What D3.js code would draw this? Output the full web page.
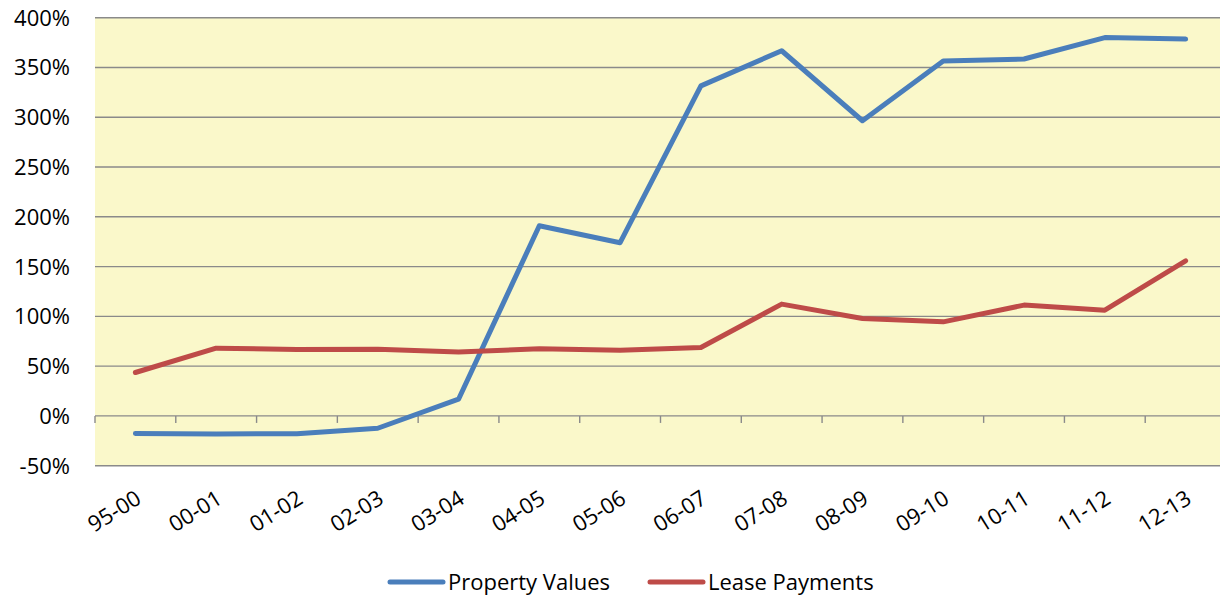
<!DOCTYPE html>
<html><head><meta charset="utf-8">
<script src="https://cdn.jsdelivr.net/npm/d3@7"></script>
<style>body{margin:0;background:#fff;}svg{display:block;font-family:"Open Sans",Lato,sans-serif;}</style>
</head><body><svg id="c" width="1220" height="601"></svg>
<script>
const categories = ["95-00","00-01","01-02","02-03","03-04","04-05","05-06","06-07","07-08","08-09","09-10","10-11","11-12","12-13"];
const propertyValues = [-17.7,-18.2,-17.8,-12.4,16.8,191,174,331.5,366.8,296.5,356.5,358.5,380,378.5];
const leasePayments = [43.6,68,66.7,67,64.3,67.5,66,68.7,112.3,97.9,94.5,111.3,106.2,155.8];
const yTicks = [-50,0,50,100,150,200,250,300,350,400];
const seriesNames = ["Property Values","Lease Payments"];
const colors = ["#4A7EBB","#BE4B48"];

const svg = d3.select("#c");
const L = 95, R = 1226, T = 17.7, B = 465.7;
const x = d3.scaleBand().domain(categories).range([L, R]);
const y = d3.scaleLinear().domain([-50, 400]).range([B, T]);

svg.append("rect").attr("x", L).attr("y", T).attr("width", R - L).attr("height", B - T).attr("fill", "#FAF8CA");

// gridlines
svg.append("g").selectAll("line").data(yTicks.filter(d => d !== 0)).join("line")
  .attr("x1", L).attr("x2", R).attr("y1", d => y(d)).attr("y2", d => y(d))
  .attr("stroke", "#8A8A8A").attr("stroke-width", 1.4);

// y labels
svg.append("g").selectAll("text").data(yTicks).join("text")
  .attr("x", 70).attr("y", d => y(d)).attr("dy", "0.36em").attr("text-anchor", "end")
  .attr("font-size", 22).attr("fill", "#000").text(d => d + "%");

// zero axis with ticks
const gx = svg.append("g").attr("transform", `translate(0,${y(0)})`);
gx.append("line").attr("x1", L).attr("x2", R).attr("stroke", "#8A8A8A").attr("stroke-width", 1.4);
gx.selectAll("line.t").data(categories.map(c => x(c))).join("line").attr("class", "t")
  .attr("x1", d => d).attr("x2", d => d).attr("y1", 0).attr("y2", 7)
  .attr("stroke", "#8A8A8A").attr("stroke-width", 1.4);

// x labels
svg.append("g").selectAll("text").data(categories).join("text")
  .attr("transform", d => `translate(${x(d) + x.bandwidth() / 2 - 1},${489}) rotate(-32)`)
  .attr("text-anchor", "end").attr("dy", "0.72em").attr("font-size", 22).attr("fill", "#000").text(d => d);

const line = d3.line().x((d, i) => x(categories[i]) + x.bandwidth() / 2).y(d => y(d));
[propertyValues, leasePayments].forEach((s, i) => {
  svg.append("path").datum(s).attr("d", line).attr("fill", "none")
    .attr("stroke", colors[i]).attr("stroke-width", 5).attr("stroke-linejoin", "round").attr("stroke-linecap", "round");
});

// legend
const legX = [390, 650];
seriesNames.forEach((n, i) => {
  const g = svg.append("g").attr("transform", `translate(${legX[i]},582)`);
  g.append("line").attr("x1", 0).attr("x2", 53).attr("stroke", colors[i]).attr("stroke-width", 5).attr("stroke-linecap", "round");
  g.append("text").attr("x", 58).attr("dy", "0.36em").attr("font-size", 22).attr("fill", "#000").text(n);
});
</script></body></html>
